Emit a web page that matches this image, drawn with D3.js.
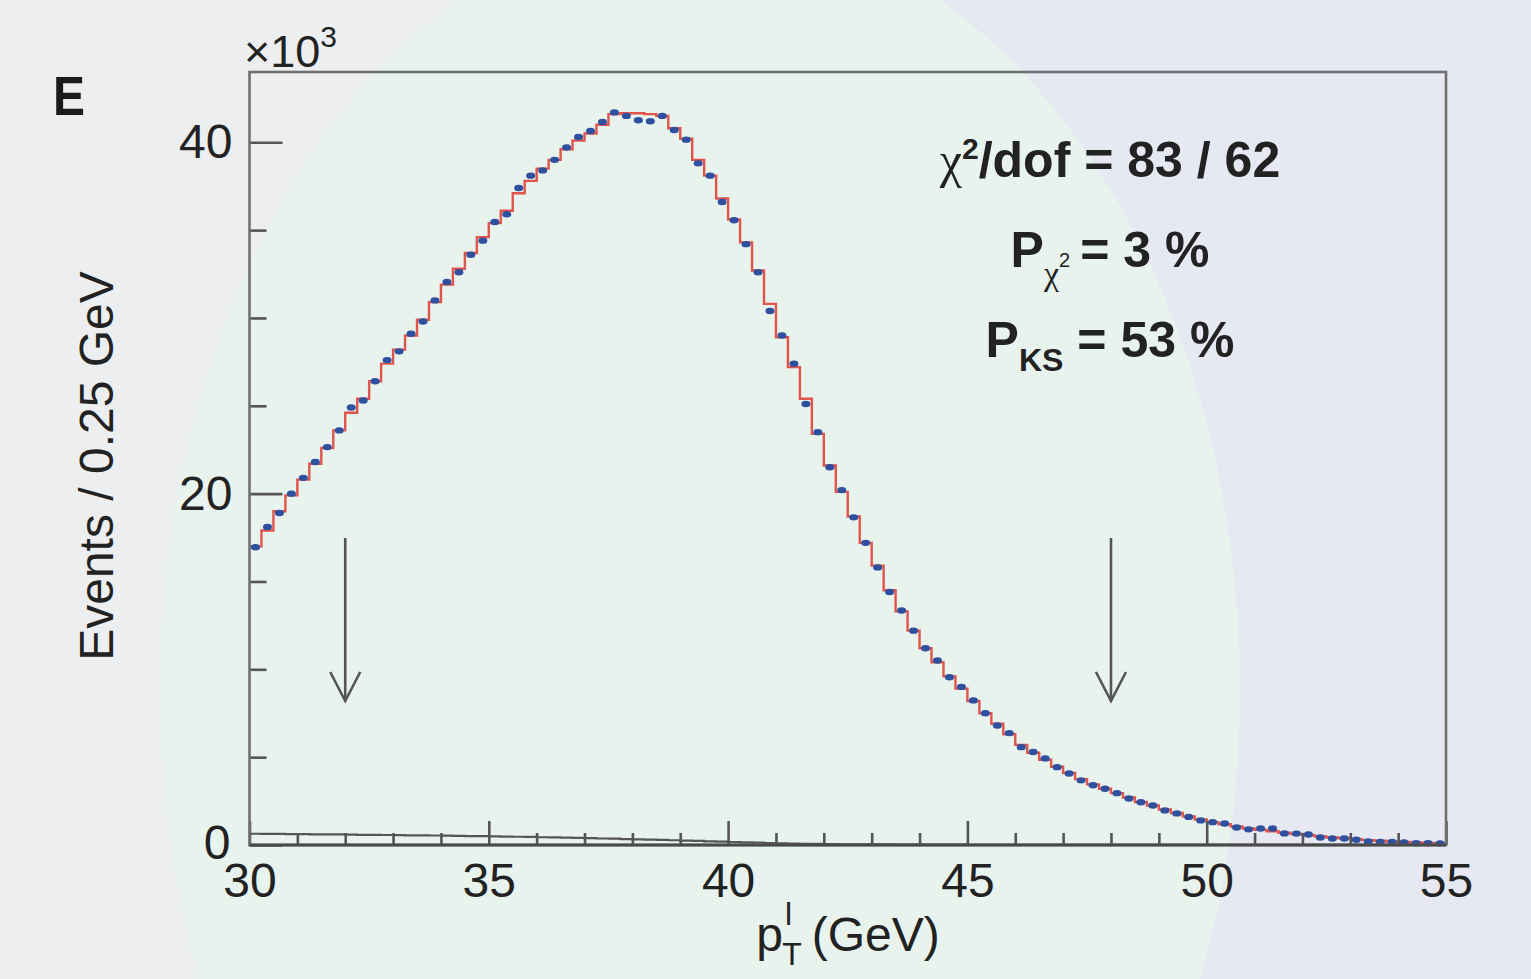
<!DOCTYPE html>
<html><head><meta charset="utf-8">
<script src="https://cdn.jsdelivr.net/npm/d3@7"></script>
<style>html,body{margin:0;padding:0;background:#eceef0;} svg{display:block}</style>
</head>
<body><svg id="c" width="1531" height="979"></svg>
<script>
// ---- data (thousands of events per 0.25 GeV bin, 30–55 GeV) ----
const binStart = 30, binWidth = 0.25;
const mcValues = [
 17.0,17.9,19.0,19.9, 20.8,21.7,22.6,23.6, 24.6,25.4,26.4,27.4, 28.2,29.0,29.9,30.9,
 31.9,32.8,33.7,34.6, 35.4,36.1,37.1,37.8, 38.5,39.0,39.6,40.1, 40.5,41.0,41.6,41.65,
 41.65,41.6,41.5,40.8, 40.2,39.0,38.1,36.8, 35.6,34.3,32.7,30.8, 28.9,27.2,25.4,23.4,
 21.6,20.1,18.7,17.2, 15.9,14.5,13.3,12.2, 11.2,10.4,9.6,8.9, 8.2,7.5,6.9,6.3,
 5.7,5.25,4.85,4.45, 4.1,3.75,3.45,3.2, 2.95,2.7,2.45,2.25, 2.02,1.82,1.63,1.45,
 1.3,1.18,1.05,0.94, 0.86,0.78,0.70,0.63, 0.56,0.49,0.43,0.38, 0.33,0.28,0.24,0.20,
 0.17,0.14,0.12,0.10
];
const dataValues = [
 16.95,18.1,18.9,20.0, 20.9,21.8,22.65,23.6, 24.9,25.3,26.4,27.6, 28.1,29.1,29.8,31.0,
 32.05,32.6,33.6,34.4, 35.46,35.9,37.4,38.1, 38.4,39.0,39.7,40.3, 40.64,41.15,41.7,41.5,
 41.25,41.2,41.5,40.7, 40.15,38.8,38.1,36.6, 35.56,34.2,32.6,30.4, 29.0,27.4,25.1,23.5,
 21.5,20.2,18.65,17.2, 15.8,14.4,13.35,12.2, 11.2,10.5,9.55,9.0, 8.23,7.5,6.8,6.37,
 5.57,5.29,4.93,4.43, 4.07,3.68,3.4,3.2, 2.95,2.65,2.43,2.25, 1.97,1.8,1.6,1.4,
 1.3,1.22,1.0,0.89, 0.94,0.94,0.66,0.65, 0.6,0.43,0.37,0.37, 0.3,0.2,0.17,0.17,
 0.14,0.1,0.1,0.09
];
const bkgValues = [
 0.64,0.63,0.63,0.62, 0.62,0.61,0.60,0.60, 0.59,0.58,0.58,0.57, 0.56,0.55,0.55,0.54,
 0.53,0.52,0.51,0.50, 0.49,0.48,0.47,0.46, 0.44,0.43,0.42,0.40, 0.39,0.37,0.36,0.34,
 0.32,0.31,0.29,0.27, 0.25,0.23,0.21,0.19, 0.17,0.15,0.13,0.11, 0.10,0.08,0.07,0.06,
 0.05,0.04,0.04,0.03, 0.03,0.03,0.02,0.02, 0.02,0.02,0.02,0.02, 0.01,0.01,0.01,0.01,
 0.01,0.01,0.01,0.01, 0.01,0.01,0.01,0.01, 0.01,0.01,0.01,0.01, 0.01,0.01,0.01,0.01,
 0.01,0.01,0.01,0.01, 0.01,0.01,0.01,0.01, 0.01,0.01,0.01,0.01, 0.01,0.01,0.01,0.01,
 0.01,0.01,0.01,0.01
];
const xMajorTicks = [30,35,40,45,50,55];
const xMinorTicks = [31,32,33,34,36,37,38,39,41,42,43,44,46,47,48,49,51,52,53,54];
const yMajorTicks = [0,20,40];
const yMinorTicks = [5,10,15,25,30,35];
const arrowPositions = [32,48];

// ---- layout ----
const svg = d3.select("#c");
const W = 1531, H = 979;
const L = 249.5, R = 1446, T = 72, B = 845;
const x = d3.scaleLinear().domain([30,55]).range([L,R]);
const y = d3.scaleLinear().domain([0,44]).range([B,T]);
const FONT = "'Liberation Sans', Arial, Helvetica, sans-serif";
const SERIF = "'Liberation Serif', 'DejaVu Serif', serif";
const ink = "#222";

// background decoration
svg.append("rect").attr("width",W).attr("height",H).attr("fill","#eceef0");
svg.append("rect").attr("x",900).attr("y",0).attr("width",W-900).attr("height",H).attr("fill","#e6e9f1");
svg.append("ellipse").attr("cx",700).attr("cy",690).attr("rx",540).attr("ry",770).attr("fill","#e7f3ec");

// bins
const edges = d3.range(mcValues.length+1).map(i => binStart + i*binWidth);
const stepPts = vals => vals.map((v,i)=>[edges[i],v]).concat([[edges[vals.length], vals[vals.length-1]]]);
const stepLine = d3.line().x(d=>x(d[0])).y(d=>y(d[1])).curve(d3.curveStepAfter);

// background histogram
svg.append("path").attr("d", stepLine(stepPts(bkgValues)))
  .attr("fill","none").attr("stroke","#555").attr("stroke-width",2.2);

// MC histogram
svg.append("path").attr("d", stepLine(stepPts(mcValues)))
  .attr("fill","none").attr("stroke","#e0544b").attr("stroke-width",2.4);

// data points
svg.append("g").selectAll("ellipse").data(dataValues).join("ellipse")
  .attr("cx",(d,i)=>x(edges[i]+binWidth/2)).attr("cy",d=>y(d))
  .attr("rx",4.5).attr("ry",3.2).attr("fill","#2f4f9f");

// axes
const xMinor = d3.axisBottom(x).tickValues(xMinorTicks).tickSize(-12).tickFormat("");
const xMajor = d3.axisBottom(x).tickValues(xMajorTicks).tickSize(-24).tickPadding(18).tickFormat(d3.format("d"));
const yMinor = d3.axisLeft(y).tickValues(yMinorTicks).tickSize(-17).tickFormat("");
const yMajor = d3.axisLeft(y).tickValues(yMajorTicks).tickSize(-33).tickPadding(17).tickFormat(d3.format("d"));

function style(g){
  g.select(".domain").remove();
  g.selectAll("line").attr("stroke","#555").attr("stroke-width",2.6);
  g.selectAll("text").attr("font-family",FONT).attr("font-size",48).attr("fill",ink);
}
svg.append("g").attr("transform",`translate(0,${B})`).call(xMinor).call(style);
svg.append("g").attr("transform",`translate(0,${B})`).call(xMajor).call(style);
svg.append("g").attr("transform",`translate(${L},0)`).call(yMinor).call(style);
const ya = svg.append("g").attr("transform",`translate(${L},0)`).call(yMajor).call(style);
ya.selectAll(".tick").filter(d=>d===0).select("text").attr("dy","0.28em").attr("x",-19);

// frame
svg.append("rect").attr("x",L).attr("y",T).attr("width",R-L).attr("height",B-T)
  .attr("fill","none").attr("stroke","#707070").attr("stroke-width",2.6);
svg.append("line").attr("x1",L).attr("x2",R).attr("y1",B).attr("y2",B)
  .attr("stroke","#4a4a4a").attr("stroke-width",3);

// arrows
const ag = svg.append("g").attr("stroke","#555").attr("stroke-width",2.6).attr("fill","none");
arrowPositions.forEach(p=>{
  const ax = x(p);
  ag.append("line").attr("x1",ax).attr("x2",ax).attr("y1",538).attr("y2",701);
  ag.append("path").attr("d",`M${ax-15},${672}L${ax},${701}L${ax+15},${672}`).attr("stroke-linejoin","miter");
});

// axis titles
const xt = svg.append("text").attr("x",848).attr("y",951).attr("text-anchor","middle")
  .attr("font-family",FONT).attr("font-size",48).attr("fill",ink);
xt.append("tspan").text("p");
xt.append("tspan").attr("font-size",32).attr("dy",-26).attr("dx",2).text("l");
xt.append("tspan").attr("font-size",32).attr("dy",40).attr("dx",-10).text("T");
xt.append("tspan").attr("dy",-14).attr("dx",10).text("(GeV)");

svg.append("text").attr("transform","translate(113,466) rotate(-90)").attr("text-anchor","middle")
  .attr("font-family",FONT).attr("font-size",48).attr("fill",ink).text("Events / 0.25 GeV");

// ×10^3
const mult = svg.append("text").attr("x",244).attr("y",67).attr("font-family",FONT).attr("font-size",45).attr("fill",ink);
mult.append("tspan").text("×10");
mult.append("tspan").attr("font-size",30).attr("dy",-20).text("3");

// panel letter
svg.append("text").attr("x",53).attr("y",115).attr("font-family",FONT).attr("font-weight","bold")
  .attr("font-size",55).attr("fill","#1a1a1a").attr("textLength",32).attr("lengthAdjust","spacingAndGlyphs").text("E");

// statistics
const cx = 1110;
const st1 = svg.append("text").attr("x",cx).attr("y",177).attr("text-anchor","middle")
  .attr("font-family",FONT).attr("font-weight","bold").attr("font-size",50).attr("fill",ink);
st1.append("tspan").attr("font-family",SERIF).attr("font-weight","normal").text("χ");
st1.append("tspan").attr("font-size",30).attr("dy",-18).text("2");
st1.append("tspan").attr("dy",18).text("/dof = 83 / 62");

const st2 = svg.append("text").attr("x",cx).attr("y",267).attr("text-anchor","middle")
  .attr("font-family",FONT).attr("font-weight","bold").attr("font-size",50).attr("fill",ink);
st2.append("tspan").text("P");
st2.append("tspan").attr("font-family",SERIF).attr("font-weight","normal").attr("font-size",34).attr("dy",18).text("χ");
st2.append("tspan").attr("font-size",20).attr("font-weight","normal").attr("dy",-18).text("2");
st2.append("tspan").attr("dx",10).text("= 3 %");

const st3 = svg.append("text").attr("x",cx).attr("y",357).attr("text-anchor","middle")
  .attr("font-family",FONT).attr("font-weight","bold").attr("font-size",50).attr("fill",ink);
st3.append("tspan").text("P");
st3.append("tspan").attr("font-size",32).attr("dy",14).text("KS");
st3.append("tspan").attr("dy",-14).text(" = 53 %");
</script>
</body></html>
